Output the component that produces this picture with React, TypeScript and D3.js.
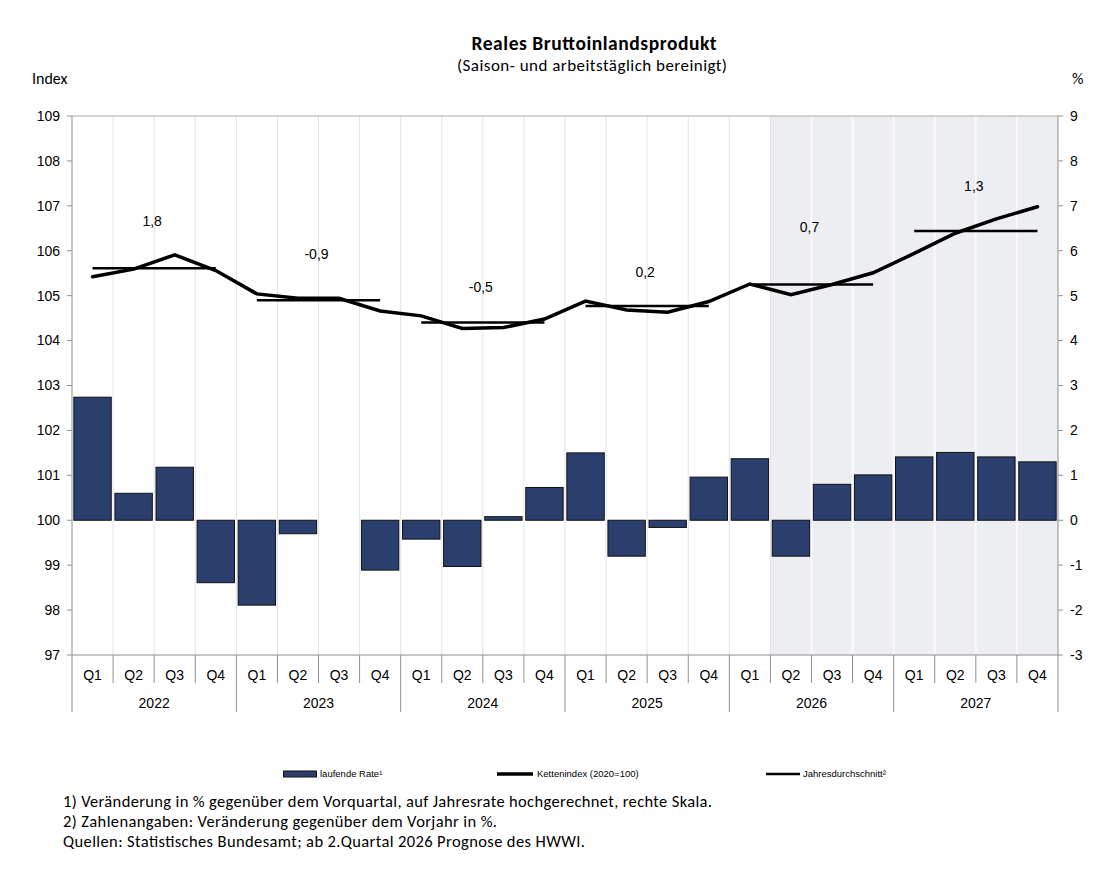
import React from "react";
import * as d3 from "d3";

const years = ["2022", "2023", "2024", "2025", "2026", "2027"];
const quarters = ["Q1", "Q2", "Q3", "Q4"];
// laufende Rate (right axis, %)
const rate = [2.74, 0.6, 1.18, -1.39, -1.89, -0.3, 0, -1.11, -0.42, -1.03, 0.08, 0.73, 1.5, -0.8, -0.16, 0.96, 1.37, -0.8, 0.8, 1.01, 1.41, 1.51, 1.41, 1.3];
// Kettenindex (left axis)
const kette = [105.42, 105.59, 105.91, 105.56, 105.04, 104.94, 104.94, 104.66, 104.55, 104.27, 104.29, 104.48, 104.88, 104.68, 104.63, 104.87, 105.26, 105.02, 105.25, 105.51, 105.94, 106.39, 106.71, 106.98];
// Jahresdurchschnitt (left axis)
const avg = [105.61, 104.9, 104.4, 104.77, 105.25, 106.44];
const avgLabels = ["1,8", "-0,9", "-0,5", "0,2", "0,7", "1,3"];
const avgLabelY = [106.67, 105.92, 105.2, 105.52, 106.53, 107.45];
const leftTicks = [97, 98, 99, 100, 101, 102, 103, 104, 105, 106, 107, 108, 109];
const rightTicks = [-3, -2, -1, 0, 1, 2, 3, 4, 5, 6, 7, 8, 9];
const forecastStart = 17;
const footnotes = [
  "1) Veränderung in % gegenüber dem Vorquartal, auf Jahresrate hochgerechnet, rechte Skala.",
  "2) Zahlenangaben: Veränderung gegenüber dem Vorjahr in %.",
  "Quellen: Statistisches Bundesamt; ab 2.Quartal 2026 Prognose des HWWI.",
];
const footnoteWidths = [649, 434, 522];

const L = 72, R = 1058, T = 116, B = 655;
const axisFont = "'Liberation Sans', Arial, sans-serif";
const calFont = "Carlito, Lato, 'Open Sans', sans-serif";
const legFont = "'Liberation Sans Narrow', 'Liberation Sans', Arial, sans-serif";

export default function App() {
  const n = years.length * 4;
  const idx = d3.range(n);
  const x = d3.scaleBand<number>().domain(idx).range([L, R]).paddingInner(0.09).paddingOuter(0.045);
  const step = x.step();
  const cx = (i: number) => L + step * (i + 0.5);
  const yL = d3.scaleLinear().domain([97, 109]).range([B, T]);
  const yR = d3.scaleLinear().domain([-3, 9]).range([B, T]);
  const line = d3.line<number>().x((_, i) => cx(i)).y((d) => yL(d));
  const barFill = "#2a3f6d";
  const axisCol = "#8f8f8f";
  const legY = 774;

  return (
    <svg width={1105} height={878} style={{ position: "absolute", left: 0, top: 0, background: "#fff" }}>
      <text x={594} y={43.5} dy="0.35em" textAnchor="middle" fontFamily={calFont} fontWeight="bold" fontSize={19.5}
        textLength={245} lengthAdjust="spacing">Reales Bruttoinlandsprodukt</text>
      <text x={592} y={65} dy="0.35em" textAnchor="middle" fontFamily={calFont} fontSize={17}
        textLength={270} lengthAdjust="spacing">(Saison- und arbeitstäglich bereinigt)</text>
      <text x={32} y={78} dy="0.35em" fontFamily={calFont} fontSize={16}>Index</text>
      <text x={1072} y={78} dy="0.35em" fontFamily={calFont} fontSize={16}>%</text>

      {/* forecast shading */}
      <rect x={L + step * forecastStart} y={T} width={R - (L + step * forecastStart)} height={B - T} fill="#edeef2" />
      {/* vertical gridlines */}
      {d3.range(1, n).map((i) => (
        <line key={"g" + i} x1={L + step * i} x2={L + step * i} y1={T} y2={B}
          stroke={i > forecastStart ? "#f9f9fb" : "#e2e2e2"} strokeWidth={i > forecastStart ? 2 : 1} />
      ))}
      <line x1={L} x2={R} y1={T} y2={T} stroke="#a8a8a8" strokeWidth={1} />

      {/* bars */}
      {rate.map((v, i) => (
        v === 0 ? null :
        <rect key={"b" + i} x={x(i)} y={Math.min(yR(v), yR(0))} width={x.bandwidth()}
          height={Math.abs(yR(v) - yR(0))} fill={barFill} stroke="#111" strokeWidth={1} />
      ))}

      {/* annual averages */}
      {avg.map((v, k) => (
        <line key={"a" + k} x1={cx(k * 4)} x2={cx(k * 4 + 3)} y1={yL(v)} y2={yL(v)} stroke="#000" strokeWidth={2.5} />
      ))}
      {/* chain index */}
      <path d={line(kette) || ""} fill="none" stroke="#000" strokeWidth={3.5} strokeLinejoin="miter" strokeLinecap="round" />
      {avgLabels.map((t, k) => (
        <text key={"l" + k} x={L + step * (k * 4 + 2) - 2} y={yL(avgLabelY[k])} dy="0.35em" textAnchor="middle"
          fontFamily={axisFont} fontSize={14}>{t}</text>
      ))}

      {/* axes */}
      <line x1={L} x2={L} y1={T} y2={712} stroke={axisCol} />
      <line x1={R} x2={R} y1={T} y2={712} stroke={axisCol} />
      <line x1={L} x2={R} y1={B} y2={B} stroke={axisCol} />
      {leftTicks.map((t) => (
        <g key={"lt" + t}>
          <line x1={L - 5} x2={L} y1={yL(t)} y2={yL(t)} stroke={axisCol} />
          <text x={L - 12} y={yL(t)} dy="0.35em" textAnchor="end" fontFamily={axisFont} fontSize={14}>{t}</text>
        </g>
      ))}
      {rightTicks.map((t) => (
        <g key={"rt" + t}>
          <line x1={R} x2={R + 5} y1={yR(t)} y2={yR(t)} stroke={axisCol} />
          <text x={R + 12} y={yR(t)} dy="0.35em" textAnchor="start" fontFamily={axisFont} fontSize={14}>{t}</text>
        </g>
      ))}
      {d3.range(1, n).map((i) => (
        <line key={"s" + i} x1={L + step * i} x2={L + step * i} y1={B} y2={i % 4 === 0 ? 712 : 683} stroke={axisCol} />
      ))}
      {idx.map((i) => (
        <text key={"q" + i} x={cx(i)} y={675} dy="0.35em" textAnchor="middle" fontFamily={axisFont} fontSize={14}>{quarters[i % 4]}</text>
      ))}
      {years.map((yv, k) => (
        <text key={"y" + k} x={L + step * (k * 4 + 2)} y={703} dy="0.35em" textAnchor="middle" fontFamily={axisFont} fontSize={14}>{yv}</text>
      ))}

      {/* legend */}
      <rect x={283.5} y={legY - 3} width={33} height={6} fill={barFill} stroke="#111" strokeWidth={1} />
      <text x={320} y={legY} dy="0.35em" fontFamily={legFont} fontSize={9.5}>laufende Rate¹</text>
      <line x1={497} x2={533} y1={legY} y2={legY} stroke="#000" strokeWidth={3.5} />
      <text x={537} y={legY} dy="0.35em" fontFamily={legFont} fontSize={9.5}>Kettenindex (2020=100)</text>
      <line x1={766} x2={800} y1={legY} y2={legY} stroke="#000" strokeWidth={2.5} />
      <text x={803} y={legY} dy="0.35em" fontFamily={legFont} fontSize={9.5}>Jahresdurchschnitt²</text>

      {footnotes.map((f, k) => (
        <text key={"f" + k} x={63} y={801.7 + k * 20} dy="0.35em" fontFamily={calFont} fontSize={16.5}
          textLength={footnoteWidths[k]} lengthAdjust="spacing">{f}</text>
      ))}
    </svg>
  );
}
